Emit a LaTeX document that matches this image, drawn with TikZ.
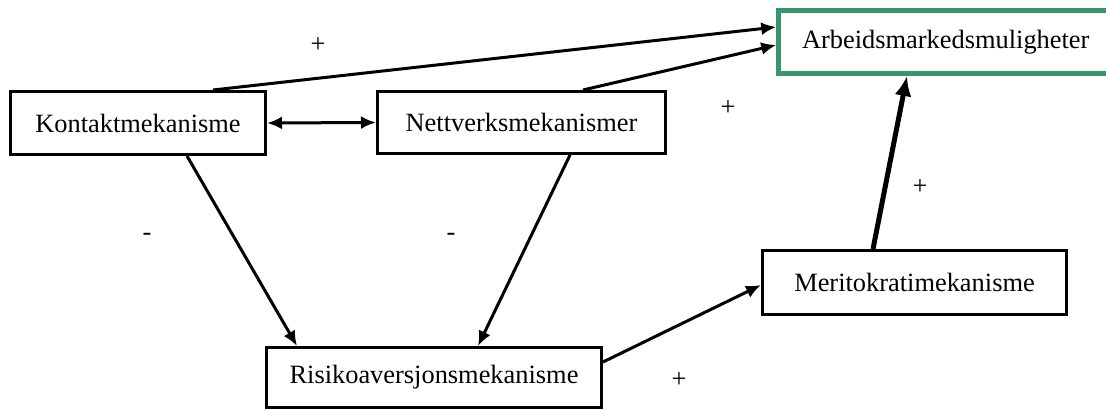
\documentclass[tikz,border=0pt]{standalone}
\usepackage{fontspec}
\setmainfont{Liberation Serif}
\usetikzlibrary{arrows.meta}
\definecolor{arbgreen}{RGB}{55,152,103}
\tikzset{t/.style={font=\fontsize{13.2}{13.2}\selectfont}}
\tikzset{b/.style={t,draw,line width=1.5pt,inner sep=0pt}}
\tikzset{a/.style={line width=1.5pt,-{Latex[length=7.5pt,width=6.5pt]}}}
\tikzset{aa/.style={line width=1.5pt,{Latex[length=7.5pt,width=6.5pt]}-{Latex[length=7.5pt,width=6.5pt]}}}

\begin{document}
\begin{tikzpicture}[x=0.5pt,y=-0.5pt]
      \useasboundingbox (0,0) rectangle (1106,411);
      \node[b,minimum width=127.5pt,minimum height=31.5pt] (kont) at (138,123) {Kontaktmekanisme};
      \node[b,minimum width=144pt,minimum height=31pt] (nett) at (521.5,122.5) {Nettverksmekanismer};
      \node[b,draw=arbgreen,line width=2.5pt,minimum width=167pt,minimum height=31.5pt] (arb) at (945.75,42) {Arbeidsmarkedsmuligheter};
      \node[b,minimum width=152pt,minimum height=32pt] (merit) at (914.5,282.5) {Meritokratimekanisme};
      \node[b,minimum width=167.5pt,minimum height=30pt] (risk) at (434,377.5) {Risikoaversjonsmekanisme};
      % connectors
      \draw[a] ([xshift=37.5pt]kont.north) -- ([yshift=7.5pt]arb.west);
      \draw[a] ([xshift=30.75pt]nett.north) -- ([yshift=-1.5pt]arb.west);
      \draw[aa] (kont.east) -- (nett.west);
      \draw[a] ([xshift=24.5pt]kont.south) -- ([xshift=-68.5pt]risk.north);
      \draw[a] ([xshift=24.25pt]nett.south) -- ([xshift=22pt]risk.north);
      \draw[a] ([yshift=7.75pt]risk.east) -- ([yshift=-1.25pt]merit.west);
      \draw[line width=2.5pt,-{Latex[length=10pt,width=8.5pt]}] ([xshift=-20.75pt]merit.north) -- ([xshift=-19.4pt]arb.south);
      % signs
      \node[t] (p1) at (318,45) {+};
      \node[t] (p2) at (728,108) {+};
      \node[t] (p3) at (920,187) {+};
      \node[t] (p4) at (679,380) {+};
      \node[t] (m1) at (147,237) {-};
      \node[t] (m2) at (451,237) {-};
\end{tikzpicture}
\end{document}
